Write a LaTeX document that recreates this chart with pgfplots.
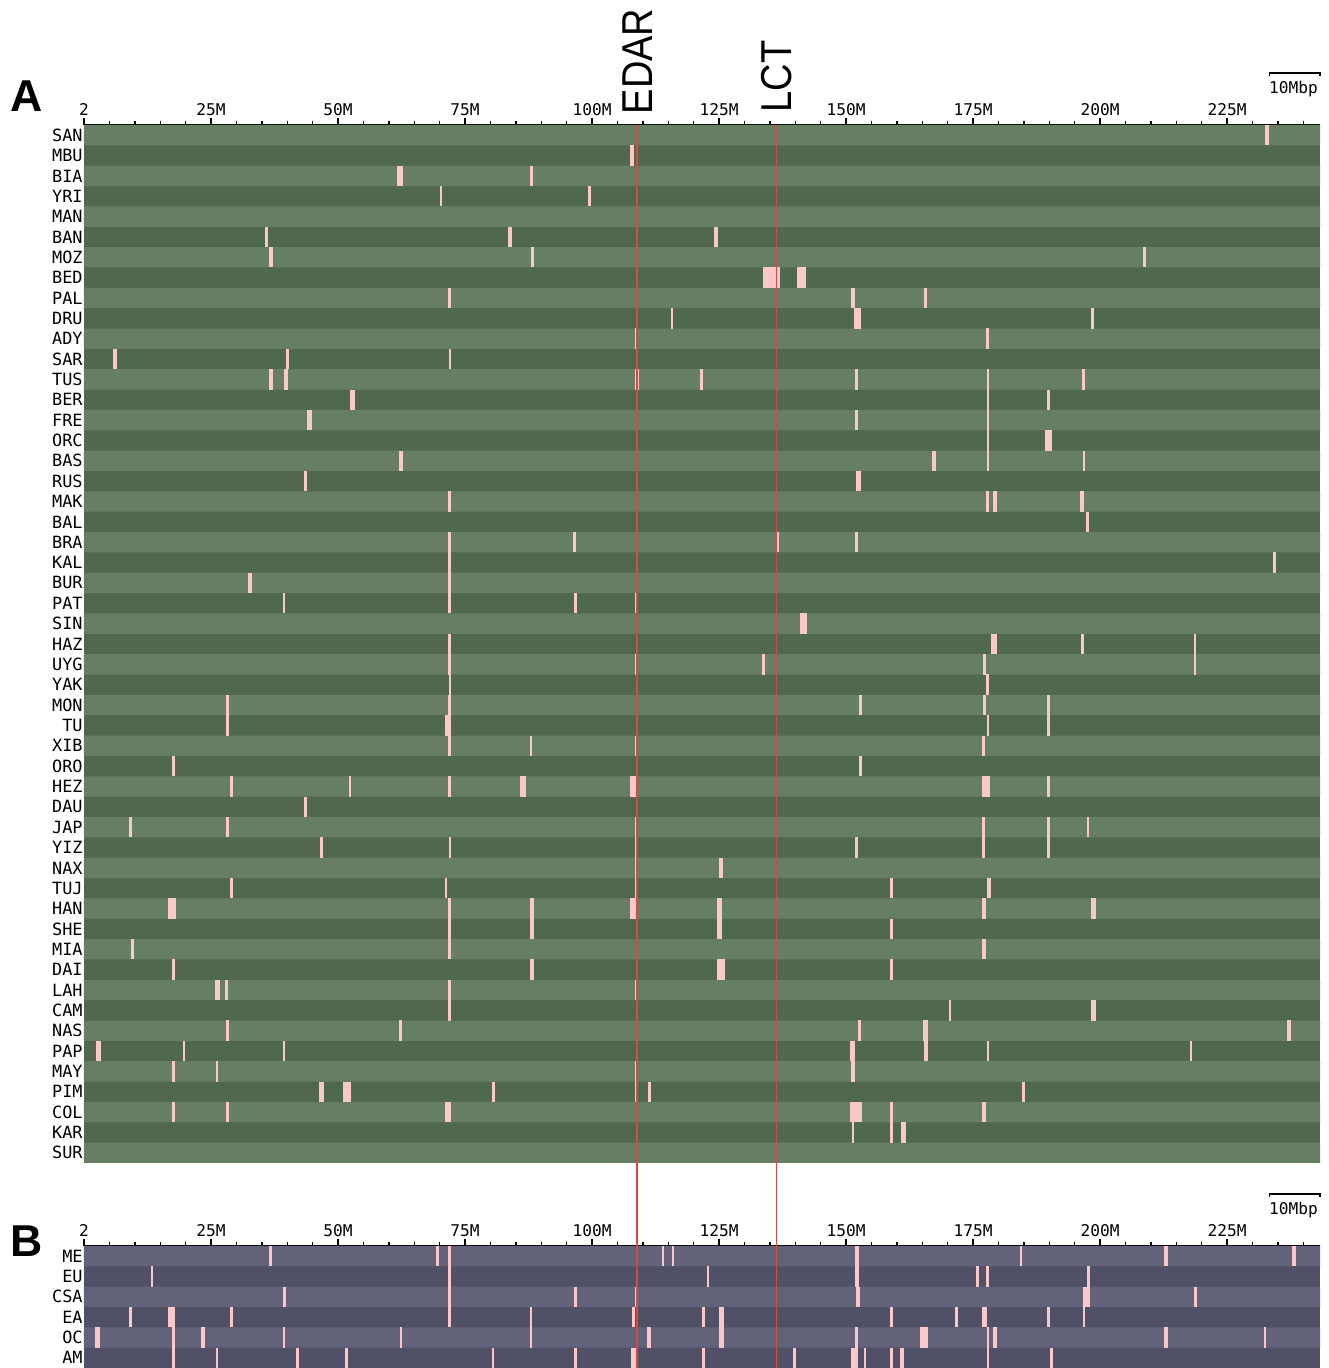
\documentclass[border=0pt]{standalone}
\usepackage{fontspec}
\setmainfont{Liberation Sans}
\newfontfamily\monof{DejaVu Sans Mono}
\newfontfamily\genef[FakeStretch=0.88]{Liberation Sans}
\usepackage{pgfplots}
\usepackage{pgfplotstable}
\pgfplotsset{compat=1.18}

\definecolor{gL}{RGB}{101,126,100}
\definecolor{gD}{RGB}{80,104,80}
\definecolor{pL}{RGB}{98,98,122}
\definecolor{pD}{RGB}{80,80,102}
\definecolor{mk}{RGB}{250,200,200}
\definecolor{gene}{RGB}{222,72,60}

% light stripes (even rows), length of chromosome 2 in Mbp
\pgfplotstableread{
r len
0 243.3
2 243.3
4 243.3
6 243.3
8 243.3
10 243.3
12 243.3
14 243.3
16 243.3
18 243.3
20 243.3
22 243.3
24 243.3
26 243.3
28 243.3
30 243.3
32 243.3
34 243.3
36 243.3
38 243.3
40 243.3
42 243.3
44 243.3
46 243.3
48 243.3
50 243.3
}\stripesA
\pgfplotstableread{
r len
0 243.3
2 243.3
4 243.3
}\stripesB

% selected regions: row, centre (Mbp), width (Mbp)
\pgfplotstableread{
r c w
0 232.8 0.8
1 107.9 0.8
2 62.2 1.0
2 88.1 0.65
3 70.3 0.45
3 99.5 0.55
5 35.9 0.6
5 83.9 0.85
5 124.4 0.65
6 36.8 0.65
6 88.3 0.65
6 208.8 0.65
7 135.3 3.4
7 141.2 1.8
8 72.0 0.65
8 151.4 0.65
8 165.7 0.65
9 115.7 0.5
9 152.3 1.3
9 198.5 0.6
10 108.7 0.65
10 177.9 0.65
11 6.1 0.65
11 40.1 0.65
11 72.0 0.45
12 36.8 0.65
12 39.7 0.85
12 108.9 0.85
12 121.5 0.65
12 152.1 0.65
12 177.9 0.5
12 196.7 0.65
13 52.8 1.0
13 177.9 0.5
13 189.9 0.65
14 44.4 0.85
14 152.1 0.65
14 177.9 0.5
15 177.9 0.5
15 189.8 1.3
16 62.4 0.65
16 167.3 0.85
16 177.9 0.5
16 196.8 0.5
17 43.6 0.65
17 152.4 1.0
18 72.0 0.65
18 177.9 0.65
18 179.3 0.65
18 196.4 0.85
19 197.5 0.6
20 72.0 0.65
20 96.6 0.6
20 136.5 0.5
20 152.1 0.6
21 72.0 0.65
21 234.3 0.6
22 32.7 0.65
22 72.0 0.65
23 39.4 0.5
23 72.0 0.65
23 96.7 0.5
23 108.7 0.65
24 141.6 1.4
25 72.0 0.65
25 179.1 1.3
25 196.6 0.65
25 218.7 0.5
26 72.0 0.65
26 108.7 0.65
26 133.8 0.5
26 177.3 0.6
26 218.7 0.5
27 72.0 0.45
27 177.9 0.6
28 28.2 0.6
28 72.0 0.65
28 152.8 0.65
28 177.3 0.65
28 189.9 0.5
29 28.2 0.6
29 71.6 1.2
29 177.9 0.5
29 189.9 0.5
30 72.0 0.65
30 88.0 0.5
30 108.7 0.65
30 177.1 0.65
31 17.6 0.65
31 152.8 0.65
32 29.1 0.65
32 52.3 0.45
32 72.0 0.6
32 86.5 1.2
32 108.1 1.2
32 177.5 1.6
32 189.9 0.5
33 43.6 0.65
34 9.2 0.65
34 28.2 0.5
34 108.7 0.6
34 177.1 0.65
34 189.9 0.5
34 197.6 0.45
35 46.8 0.65
35 72.0 0.5
35 108.7 0.6
35 152.1 0.6
35 177.1 0.65
35 189.9 0.5
36 108.7 0.6
36 125.4 0.85
37 29.1 0.65
37 71.3 0.5
37 108.7 0.6
37 159.0 0.5
37 178.1 0.85
38 17.3 1.6
38 72.0 0.6
38 88.2 0.65
38 108.2 1.3
38 125.1 0.9
38 177.1 0.85
38 198.7 1.0
39 72.0 0.6
39 88.2 0.65
39 125.1 0.9
39 159.0 0.5
40 9.5 0.5
40 72.0 0.6
40 177.1 0.85
41 17.6 0.6
41 88.2 0.65
41 125.4 1.5
41 159.0 0.5
42 26.3 1.0
42 28.0 0.5
42 72.0 0.6
42 108.7 0.65
43 72.0 0.6
43 170.5 0.45
43 198.7 1.0
44 28.2 0.65
44 62.3 0.65
44 152.7 0.6
44 165.7 1.0
44 237.2 0.65
45 2.8 1.0
45 19.7 0.5
45 39.4 0.5
45 151.3 0.9
45 165.7 0.9
45 177.9 0.5
45 217.9 0.5
46 17.6 0.65
46 26.2 0.5
46 108.7 0.65
46 151.4 0.65
47 46.7 1.0
47 51.7 1.6
47 80.6 0.5
47 108.7 0.65
47 111.3 0.45
47 184.9 0.5
48 17.6 0.65
48 28.2 0.65
48 71.6 1.2
48 152.0 2.4
48 159.0 0.5
48 177.1 0.85
49 151.4 0.5
49 159.0 0.5
49 161.4 1.0
}\marksA

\pgfplotstableread{
r c w
0 36.7 0.5
0 69.6 0.5
0 72.0 0.65
0 114.0 0.5
0 115.9 0.5
0 152.2 0.85
0 184.4 0.5
0 213.0 0.85
0 238.2 0.65
1 13.4 0.5
1 72.0 0.65
1 122.8 0.5
1 152.2 0.85
1 175.8 0.6
1 177.9 0.6
1 197.7 0.65
2 39.5 0.65
2 72.0 0.65
2 96.8 0.5
2 108.7 0.65
2 152.4 0.85
2 197.4 1.4
2 218.7 0.6
3 9.2 0.6
3 17.3 1.4
3 29.1 0.65
3 72.0 0.65
3 88.0 0.5
3 108.2 0.65
3 121.9 0.65
3 125.5 1.1
3 159.0 0.5
3 171.8 0.65
3 177.3 1.0
3 189.9 0.6
3 196.8 0.5
4 2.7 1.0
4 17.6 0.6
4 23.4 0.65
4 39.4 0.5
4 62.4 0.5
4 88.0 0.5
4 111.2 0.65
4 125.5 1.1
4 152.1 0.5
4 165.4 1.5
4 177.9 0.5
4 179.3 0.65
4 213.0 0.65
4 232.5 0.5
5 17.6 0.6
5 26.2 0.5
5 42.0 0.5
5 51.7 0.65
5 80.5 0.5
5 96.8 0.5
5 108.3 1.3
5 121.9 0.65
5 139.9 0.65
5 151.4 0.65
5 152.1 0.5
5 153.7 0.5
5 159.0 0.65
5 161.0 0.85
5 177.9 0.5
5 190.4 0.5
}\marksB

\pgfplotsset{
  chrom/.style={
    scale only axis, width=12.36cm,
    xmin=0, xmax=243.3,
    axis x line*=top, axis y line*=left,
    y axis line style={draw=none},
    x axis line style={black, line width=0.5pt},
    xtick={0,25,...,225},
    xticklabels={2,25M,50M,75M,100M,125M,150M,175M,200M,225M},
    minor xtick={5,10,...,240},
    tick align=outside,
    major tick length=2pt, minor tick length=1.1pt,
    xtick style={black, line width=0.4pt},
    ytick style={draw=none},
    xticklabel style={font=\monof\fontsize{4.6}{5}\selectfont, inner sep=0.5pt},
    yticklabel style={font=\monof\fontsize{4.8}{5}\selectfont, inner sep=0.5pt, xshift=2.3pt},
    clip=false,
  },
  stripe/.style={xbar, bar width=1, bar shift=0pt, draw=none, fill=#1, forget plot},
  seg/.style={draw=none, mark=none, forget plot,
    error bars/.cd, x dir=plus, x explicit, error mark=none,
    error bar style={draw=mk, line width=5.8pt}},
}

\begin{document}
\begin{tikzpicture}
\useasboundingbox (0,0) rectangle (13.29,13.68);

\begin{axis}[chrom,
  at={(0.84cm,12.43cm)}, anchor=north west, height=10.38cm,
  ymin=-50.5, ymax=0.5,
  axis background/.style={fill=gD},
  ytick={-50,-49,...,0},
  yticklabels={SUR,KAR,COL,PIM,MAY,PAP,NAS,CAM,LAH,DAI,MIA,SHE,HAN,TUJ,NAX,YIZ,JAP,DAU,HEZ,ORO,XIB,TU,MON,YAK,UYG,HAZ,SIN,PAT,BUR,KAL,BRA,BAL,MAK,RUS,BAS,ORC,FRE,BER,TUS,SAR,ADY,DRU,PAL,BED,MOZ,BAN,MAN,YRI,BIA,MBU,SAN},
]
\addplot[stripe=gL] table[x=len, y expr=-\thisrow{r}] {\stripesA};
\addplot[seg] table[x expr=\thisrow{c}-0.5*\thisrow{w}, y expr=-\thisrow{r}, x error=w] {\marksA};
% gene labels
\node[rotate=90, anchor=west, inner sep=0pt, font=\genef\fontsize{12.3}{14}\selectfont]
  at ([yshift=0.1cm]axis cs:108.9,0.5) {EDAR};
\node[rotate=90, anchor=west, inner sep=0pt, font=\genef\fontsize{12.3}{14}\selectfont]
  at ([yshift=0.12cm]axis cs:136.3,0.5) {LCT};
% 10 Mbp scale bar
\draw[line width=0.4pt] ([yshift=0.49cm]axis cs:233.3,0.5) -- ([yshift=0.52cm]axis cs:233.3,0.5)
  -- ([yshift=0.52cm]axis cs:243.3,0.5) -- ([yshift=0.49cm]axis cs:243.3,0.5);
\node[anchor=base east, inner sep=0pt, font=\monof\fontsize{4.6}{5}\selectfont]
  at ([yshift=0.31cm]axis cs:243.0,0.5) {10Mbp};
\end{axis}

\begin{axis}[chrom,
  at={(0.84cm,1.22cm)}, anchor=north west, height=1.22cm,
  ymin=-5.5, ymax=0.5,
  axis background/.style={fill=pD},
  ytick={-5,-4,...,0},
  yticklabels={AM,OC,EA,CSA,EU,ME},
]
\addplot[stripe=pL] table[x=len, y expr=-\thisrow{r}] {\stripesB};
\addplot[seg] table[x expr=\thisrow{c}-0.5*\thisrow{w}, y expr=-\thisrow{r}, x error=w] {\marksB};
% EDAR and LCT positions, running up through panel A
\addplot[gene, line width=0.45pt, forget plot] coordinates {(108.9,-5.5) (108.9,55.63)};
\addplot[gene, line width=0.45pt, forget plot] coordinates {(136.3,-5.5) (136.3,55.63)};
\draw[line width=0.4pt] ([yshift=0.49cm]axis cs:233.3,0.5) -- ([yshift=0.52cm]axis cs:233.3,0.5)
  -- ([yshift=0.52cm]axis cs:243.3,0.5) -- ([yshift=0.49cm]axis cs:243.3,0.5);
\node[anchor=base east, inner sep=0pt, font=\monof\fontsize{4.6}{5}\selectfont]
  at ([yshift=0.31cm]axis cs:243.0,0.5) {10Mbp};
\end{axis}

\node[anchor=base west, inner sep=0pt, font=\bfseries\fontsize{12.7}{14}\selectfont] at (0.10,12.56) {A};
\node[anchor=base west, inner sep=0pt, font=\bfseries\fontsize{12.7}{14}\selectfont] at (0.10,1.12) {B};
\end{tikzpicture}
\end{document}
